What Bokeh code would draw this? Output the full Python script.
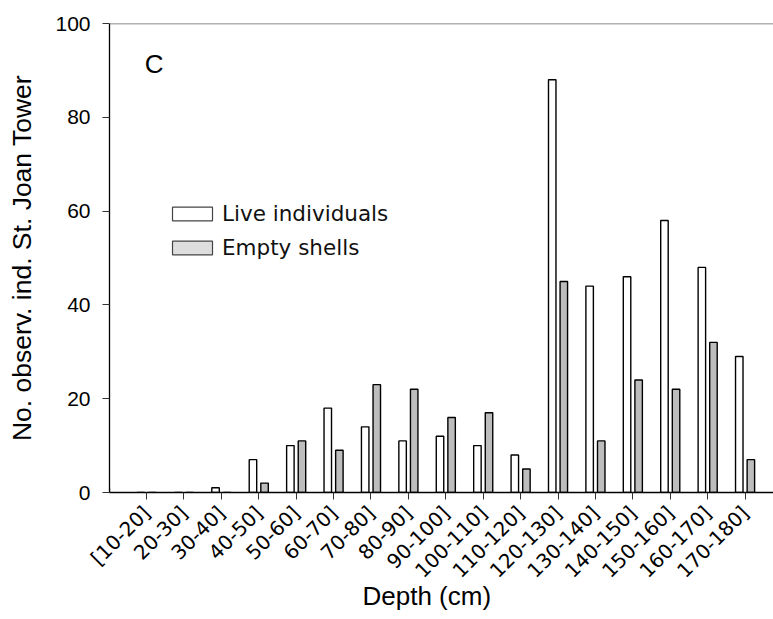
from bokeh.plotting import figure
from bokeh.models import (Range1d, FixedTicker, Legend, LegendItem, Label, Span,
                          ColumnDataSource, Title)
from bokeh.embed import file_html
from bokeh.resources import INLINE
import math

categories = ["[10-20]", "20-30]", "30-40]", "40-50]", "50-60]", "60-70]", "70-80]",
              "80-90]", "90-100]", "100-110]", "110-120]", "120-130]", "130-140]",
              "140-150]", "150-160]", "160-170]", "170-180]"]
live = [0, 0, 1, 7, 10, 18, 14, 11, 12, 10, 8, 88, 44, 46, 58, 48, 29]
empty = [0, 0, 0, 2, 11, 9, 23, 22, 16, 17, 5, 45, 11, 24, 22, 32, 7]
y_ticks = [0, 20, 40, 60, 80, 100]

idx = list(range(len(categories)))
src_live = ColumnDataSource(dict(x=[i - 0.155 for i in idx], top=live))
src_empty = ColumnDataSource(dict(x=[i + 0.155 for i in idx], top=empty))

p = figure(width=773, height=619, output_backend="svg", toolbar_location=None,
           x_range=Range1d(-0.99, 16.76), y_range=Range1d(0, 100),
           min_border_left=109, min_border_right=0, min_border_top=23,
           min_border_bottom=127, background_fill_color="white",
           border_fill_color="white")
p.outline_line_color = None
p.xgrid.visible = False
p.ygrid.visible = False

p.vbar(x="x", top="top", bottom=0, width=0.2, source=src_live,
       fill_color="white", line_color="black", line_width=1.4)
p.vbar(x="x", top="top", bottom=0, width=0.2, source=src_empty,
       fill_color="#bdbdbd", line_color="black", line_width=1.4)

# legend proxies (placed outside the visible range)
dummy_live = p.vbar(x=[-50], top=[1], width=0.2, fill_color="white",
                    line_color="#444444", line_width=1.2)
dummy_empty = p.vbar(x=[-50], top=[1], width=0.2, fill_color="#dedede",
                     line_color="#444444", line_width=1.2)
legend = Legend(items=[LegendItem(label="Live individuals", renderers=[dummy_live]),
                       LegendItem(label="Empty shells", renderers=[dummy_empty])],
                location=(58, 232), glyph_width=50, glyph_height=17,
                label_height=23, spacing=9, label_standoff=5,
                padding=0, margin=0, border_line_color=None,
                background_fill_alpha=0,
                label_text_font="DejaVu Sans", label_text_font_size="21.5px",
                label_text_color="#111111")
p.add_layout(legend, "center")

top_line = Span(location=100, dimension="width", line_color="#666666", line_width=1.3)
p.add_layout(top_line)

p.add_layout(Label(x=-0.05, y=91.3, text="C", text_font="Liberation Sans",
                   text_font_size="26px", text_color="black",
                   text_baseline="alphabetic"))

xa = p.xaxis[0]
xa.ticker = FixedTicker(ticks=idx)
xa.major_label_overrides = {i: c for i, c in zip(idx, categories)}
xa.major_label_orientation = math.pi / 4
xa.major_label_text_font = "DejaVu Sans"
xa.major_label_text_font_size = "20px"
xa.major_label_text_color = "black"
xa.major_label_standoff = 10
xa.major_tick_out = 7
xa.major_tick_in = 0
xa.minor_tick_out = 0
xa.minor_tick_in = 0
xa.axis_line_color = "black"
xa.axis_line_width = 1.3
xa.major_tick_line_color = "#333333"

p.add_layout(Title(text="Depth (cm)", align="left", offset=253,
                   text_font="Liberation Sans", text_font_size="26px",
                   text_font_style="normal", text_color="black",
                   standoff=-31), "below")

ya = p.yaxis[0]
ya.ticker = FixedTicker(ticks=y_ticks)
ya.major_label_text_font = "Liberation Sans"
ya.major_label_text_font_size = "21px"
ya.major_label_text_color = "black"
ya.major_label_standoff = 12
ya.major_tick_out = 7
ya.major_tick_in = 0
ya.minor_tick_out = 0
ya.minor_tick_in = 0
ya.axis_line_color = "black"
ya.axis_line_width = 1.3
ya.major_tick_line_color = "#333333"
ya.axis_label = "No. observ. ind. St. Joan Tower"
ya.axis_label_text_font = "Liberation Sans"
ya.axis_label_text_font_size = "26.5px"
ya.axis_label_text_font_style = "normal"
ya.axis_label_text_color = "black"
ya.axis_label_standoff = 15

open("out.html", "w").write(file_html(p, INLINE))
